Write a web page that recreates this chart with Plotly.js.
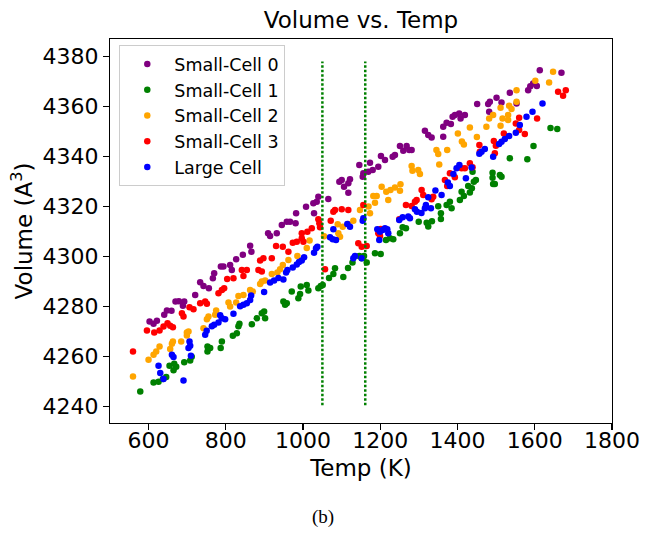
<!DOCTYPE html>
<html>
<head>
<meta charset="utf-8">
<script src="https://cdn.plot.ly/plotly-3.0.1.min.js"></script>
<style>html,body{margin:0;padding:0;background:#fff}#chart{width:645px;height:535px}</style>
</head>
<body>
<div id="chart"></div>
<script>
// ---- data ----
const seriesNames = ["Small-Cell 0", "Small-Cell 1", "Small-Cell 2", "Small-Cell 3", "Large Cell"];
const seriesColors = ["purple", "green", "orange", "red", "blue"];

const sc0Temp = [602.4, 612.8, 621.5, 640.4, 647.4, 659.3, 669.6, 678.4, 692.2, 688.8,
  720.6, 733.5, 742.1, 756.0, 766.4, 769.8, 787.1, 793.8, 811.1, 815.5,
  826.7, 844.0, 862.9, 866.2, 909.4, 914.6, 931.9, 944.9, 957.8, 966.3,
  980.6, 981.9, 1007.7, 1026.6, 1028.4, 1035.4, 1039.5, 1065.4, 1093.9, 1100.1,
  1106.0, 1117.2, 1121.5, 1117.2, 1145.6, 1156.0, 1154.4, 1168.9, 1173.3, 1180.3,
  1194.8, 1201.7, 1212.1, 1232.0, 1237.9, 1250.9, 1259.4, 1268.2, 1274.9, 1281.1,
  1315.5, 1324.1, 1332.9, 1362.9, 1362.9, 1371.7, 1382.8, 1387.2, 1393.2, 1404.3,
  1407.9, 1419.0, 1450.8, 1479.3, 1483.7, 1481.9, 1501.0, 1513.9, 1535.4, 1552.8,
  1582.8, 1588.4, 1595.7, 1605.3, 1613.0, 1669.1];
const sc0Vol = [4274.0, 4273.1, 4274.3, 4276.7, 4278.4, 4278.3, 4282.0, 4282.1, 4282.0, 4280.3,
  4284.6, 4289.7, 4288.2, 4287.3, 4291.3, 4293.3, 4296.0, 4296.0, 4296.6, 4294.6,
  4298.9, 4300.7, 4304.3, 4301.9, 4309.3, 4308.2, 4309.3, 4312.6, 4313.9, 4313.9,
  4313.3, 4317.3, 4319.9, 4321.3, 4317.3, 4321.9, 4323.9, 4323.0, 4329.9, 4330.6,
  4327.9, 4329.3, 4330.9, 4325.5, 4336.6, 4333.3, 4331.9, 4333.9, 4337.5, 4334.6,
  4335.9, 4340.2, 4338.6, 4339.9, 4340.6, 4344.2, 4342.3, 4344.2, 4342.6, 4342.6,
  4350.3, 4348.6, 4347.6, 4347.9, 4351.9, 4353.5, 4353.0, 4355.9, 4356.6, 4357.2,
  4355.2, 4356.6, 4361.0, 4361.0, 4361.9, 4357.9, 4363.5, 4361.6, 4365.5, 4361.2,
  4366.5, 4368.1, 4369.2, 4368.2, 4374.5, 4373.5];

const sc1Temp = [578.3, 612.8, 625.7, 637.0, 645.6, 654.1, 664.5, 671.5, 666.3, 692.2,
  711.6, 707.7, 752.4, 759.4, 752.4, 786.6, 789.7, 818.1, 828.5, 835.2,
  832.6, 867.3, 880.2, 893.1, 899.1, 901.7, 949.0, 953.4, 957.8, 970.7,
  994.0, 992.2, 987.8, 1009.5, 1013.7, 1039.5, 1045.7, 1050.9, 1067.2, 1078.4,
  1082.7, 1104.2, 1116.4, 1128.0, 1145.6, 1151.8, 1157.8, 1164.8, 1186.2, 1201.0,
  1214.7, 1225.0, 1233.6, 1250.9, 1257.9, 1266.4, 1299.5, 1320.0, 1324.1, 1333.7,
  1356.9, 1356.9, 1350.0, 1371.7, 1384.6, 1380.2, 1406.1, 1416.4, 1410.5, 1431.9,
  1437.1, 1427.6, 1442.3, 1447.5, 1438.9, 1490.7, 1490.7, 1492.2, 1496.6, 1509.6,
  1513.9, 1535.4, 1580.7, 1596.7, 1640.7, 1658.3];
const sc1Vol = [4246.0, 4249.6, 4249.9, 4251.0, 4251.8, 4256.3, 4254.5, 4255.9, 4257.1, 4257.7,
  4259.9, 4258.4, 4264.0, 4263.4, 4262.0, 4263.4, 4266.0, 4268.3, 4269.3, 4273.1,
  4272.1, 4272.9, 4275.3, 4277.3, 4278.0, 4275.3, 4282.0, 4280.7, 4281.3, 4286.0,
  4288.0, 4285.0, 4283.3, 4288.6, 4286.4, 4287.3, 4288.2, 4288.6, 4291.4, 4293.0,
  4295.3, 4291.8, 4295.4, 4297.6, 4300.2, 4299.3, 4300.2, 4297.6, 4301.3, 4301.0,
  4306.6, 4307.3, 4306.9, 4309.3, 4311.7, 4311.3, 4313.9, 4313.5, 4312.0, 4314.1,
  4317.3, 4315.0, 4320.1, 4320.6, 4319.3, 4321.9, 4322.6, 4324.2, 4325.9, 4325.6,
  4327.3, 4328.2, 4329.9, 4330.6, 4333.9, 4333.5, 4331.5, 4329.0, 4329.0, 4332.6,
  4331.9, 4339.3, 4338.9, 4344.2, 4351.4, 4351.0];

const sc2Temp = [559.5, 599.8, 612.8, 619.7, 628.3, 655.9, 660.3, 662.9, 684.4, 699.1,
  703.3, 699.1, 742.1, 750.9, 755.0, 772.3, 774.9, 806.8, 811.1, 826.7,
  832.6, 845.5, 862.9, 869.9, 888.7, 893.1, 901.7, 919.0, 933.5, 940.5,
  947.5, 962.0, 985.2, 1009.5, 1016.8, 1054.3, 1089.7, 1091.3, 1095.7, 1102.7,
  1117.2, 1130.1, 1147.4, 1169.4, 1173.3, 1186.2, 1181.8, 1190.6, 1203.5, 1215.4,
  1220.6, 1226.3, 1237.9, 1252.2, 1250.9, 1281.1, 1283.2, 1298.2, 1302.6, 1345.3,
  1350.0, 1373.2, 1352.6, 1400.9, 1411.3, 1416.4, 1431.9, 1450.1, 1474.7, 1481.9,
  1492.2, 1511.4, 1511.4, 1516.5, 1533.6, 1539.8, 1531.0, 1531.0, 1552.8, 1552.8,
  1601.4, 1637.1, 1647.4];
const sc2Vol = [4252.0, 4258.7, 4260.7, 4262.0, 4264.0, 4263.0, 4265.1, 4266.0, 4266.0, 4269.6,
  4270.0, 4268.4, 4271.3, 4274.9, 4276.0, 4276.7, 4278.4, 4281.6, 4280.0, 4281.6,
  4284.2, 4284.6, 4286.6, 4286.0, 4289.0, 4290.0, 4290.4, 4293.0, 4293.6, 4294.9,
  4296.6, 4298.6, 4300.2, 4303.4, 4306.4, 4308.1, 4312.9, 4309.3, 4307.9, 4311.9,
  4313.0, 4314.3, 4318.6, 4320.0, 4317.3, 4321.5, 4324.2, 4324.2, 4327.9, 4325.9,
  4322.6, 4326.6, 4327.6, 4328.9, 4326.3, 4336.2, 4334.3, 4334.6, 4333.0, 4342.6,
  4341.0, 4342.6, 4336.8, 4349.2, 4346.0, 4344.8, 4351.6, 4347.8, 4351.9, 4355.2,
  4356.6, 4352.3, 4359.5, 4355.2, 4360.3, 4359.0, 4356.6, 4354.6, 4366.5, 4361.9,
  4370.3, 4369.6, 4373.9];

const sc3Temp = [559.5, 595.7, 614.6, 628.3, 638.6, 649.0, 655.9, 662.9, 686.2, 690.3,
  705.9, 716.2, 733.5, 746.5, 750.9, 780.9, 789.7, 795.6, 803.4, 819.7,
  841.4, 845.5, 854.3, 884.4, 893.1, 888.7, 897.3, 919.0, 930.1, 947.5,
  962.0, 973.3, 983.7, 996.6, 996.6, 1000.8, 1011.1, 1022.5, 1039.5, 1042.1,
  1043.9, 1071.6, 1078.4, 1082.7, 1100.1, 1117.2, 1056.9, 1143.0, 1151.8, 1164.8,
  1156.0, 1194.8, 1199.2, 1201.0, 1249.1, 1266.4, 1281.1, 1289.7, 1307.0, 1311.2,
  1294.1, 1332.9, 1337.0, 1367.3, 1373.2, 1380.2, 1393.1, 1410.5, 1419.0, 1431.9,
  1438.9, 1456.5, 1457.8, 1494.0, 1499.2, 1496.6, 1519.9, 1550.9, 1559.5, 1559.5,
  1574.2, 1606.0, 1660.4, 1673.3, 1680.3];
const sc3Vol = [4262.0, 4270.4, 4269.6, 4270.4, 4272.0, 4273.3, 4272.3, 4271.7, 4277.3, 4276.0,
  4279.7, 4278.9, 4281.3, 4282.0, 4281.1, 4285.3, 4286.6, 4287.3, 4291.0, 4291.3,
  4294.6, 4292.2, 4294.6, 4294.6, 4294.0, 4298.4, 4299.3, 4299.3, 4304.2, 4303.9,
  4301.9, 4305.5, 4305.9, 4309.3, 4307.3, 4305.9, 4309.9, 4311.3, 4314.9, 4313.3,
  4311.7, 4314.3, 4317.9, 4318.6, 4318.9, 4318.6, 4294.9, 4305.3, 4303.9, 4304.2,
  4320.6, 4309.3, 4308.2, 4311.0, 4314.9, 4320.6, 4320.2, 4321.9, 4326.6, 4324.6,
  4322.6, 4322.9, 4323.9, 4330.6, 4328.2, 4333.3, 4331.7, 4335.3, 4335.3, 4337.3,
  4335.7, 4344.6, 4341.9, 4346.2, 4344.3, 4341.3, 4349.2, 4353.2, 4355.5, 4350.6,
  4349.0, 4355.2, 4365.9, 4364.3, 4366.5];

const largeTemp = [625.7, 630.1, 638.6, 660.3, 664.5, 690.3, 703.3, 705.9, 707.7, 709.5,
  746.5, 750.4, 763.8, 769.8, 780.9, 789.7, 785.3, 798.2, 819.7, 837.0,
  845.5, 854.3, 862.9, 865.5, 899.1, 914.6, 925.0, 936.1, 949.0, 956.0,
  959.4, 973.3, 983.7, 989.6, 996.6, 1002.6, 1028.4, 1033.6, 1037.0, 1069.8,
  1078.4, 1076.8, 1085.3, 1114.6, 1121.5, 1154.4, 1156.0, 1130.1, 1134.5, 1151.8,
  1192.2, 1197.3, 1199.1, 1206.1, 1212.1, 1218.0, 1220.6, 1249.1, 1257.9, 1272.4,
  1276.7, 1289.7, 1294.9, 1306.5, 1315.5, 1318.1, 1324.1, 1331.1, 1342.7, 1358.7,
  1375.0, 1380.2, 1389.3, 1397.5, 1404.8, 1421.6, 1436.4, 1456.5, 1462.2, 1470.7,
  1492.2, 1507.7, 1513.9, 1522.5, 1533.6, 1550.9, 1561.3, 1578.6, 1594.1, 1620.0];
const largeVol = [4256.3, 4253.4, 4251.0, 4260.7, 4259.8, 4250.4, 4263.4, 4266.0, 4264.3, 4260.3,
  4268.7, 4270.3, 4272.1, 4272.7, 4273.6, 4275.3, 4276.5, 4274.9, 4277.1, 4280.1,
  4280.7, 4281.3, 4282.6, 4284.4, 4285.8, 4289.6, 4290.4, 4291.4, 4290.8, 4293.6,
  4294.6, 4295.6, 4296.8, 4297.8, 4298.4, 4299.7, 4301.5, 4303.3, 4303.9, 4307.7,
  4310.9, 4306.9, 4306.6, 4313.0, 4311.9, 4314.3, 4315.3, 4299.3, 4300.2, 4299.3,
  4310.9, 4306.6, 4309.9, 4310.6, 4311.3, 4310.9, 4309.3, 4314.6, 4315.7, 4316.0,
  4315.3, 4318.9, 4317.9, 4317.4, 4319.3, 4320.6, 4323.7, 4319.3, 4326.4, 4324.6,
  4329.6, 4328.2, 4333.0, 4335.3, 4336.6, 4331.3, 4335.6, 4341.1, 4341.9, 4343.0,
  4339.9, 4345.0, 4345.9, 4347.0, 4348.2, 4349.5, 4352.6, 4355.9, 4357.9, 4361.2];

const vlineTemps = [1050, 1161];
const vlineVolRange = [4240.5, 4378];
const xTickVals = [600, 800, 1000, 1200, 1400, 1600, 1800];
const yTickVals = [4240, 4260, 4280, 4300, 4320, 4340, 4360, 4380];

// ---- build traces ----
const temps = [sc0Temp, sc1Temp, sc2Temp, sc3Temp, largeTemp];
const vols = [sc0Vol, sc1Vol, sc2Vol, sc3Vol, largeVol];
const FONT = "DejaVu Sans, sans-serif";

const traces = seriesNames.map((name, i) => ({
  type: "scatter",
  mode: "markers",
  name: name,
  x: temps[i],
  y: vols[i],
  marker: { color: seriesColors[i], size: 6.5, line: { width: 0 } }
}));

const shapes = vlineTemps.map(t => ({
  type: "line", xref: "x", yref: "y", layer: "above",
  x0: t, x1: t, y0: vlineVolRange[0], y1: vlineVolRange[1],
  line: { color: "green", width: 2.5, dash: "2.5px,2px" }
}));

const axisCommon = {
  showgrid: false, zeroline: false,
  showline: true, mirror: true, linecolor: "black", linewidth: 1.2,
  ticks: "outside", ticklen: 6, tickwidth: 1.2, tickcolor: "black",
  tickfont: { family: FONT, size: 22, color: "black" }
};

const layout = {
  width: 645, height: 535,
  margin: { l: 110, r: 33, t: 39, b: 112, pad: 0 },
  paper_bgcolor: "white", plot_bgcolor: "white",
  font: { family: FONT, color: "black" },
  title: {
    text: "Volume vs. Temp",
    font: { family: FONT, size: 23, color: "black" },
    xref: "paper", x: 0.5, xanchor: "center",
    yref: "container", y: 0.962, yanchor: "middle"
  },
  xaxis: Object.assign({}, axisCommon, {
    range: [500, 1800], tickvals: xTickVals,
    ticklabelstandoff: -9,
    title: { text: "Temp (K)", font: { family: FONT, size: 23, color: "black" }, standoff: 8 }
  }),
  yaxis: Object.assign({}, axisCommon, {
    range: [4233.4, 4387.0], tickvals: yTickVals,
    title: { text: "Volume (A<sup>3</sup>)", font: { family: FONT, size: 23, color: "black" }, standoff: 3 }
  }),
  legend: {
    x: 0.0185, y: 0.984, xanchor: "left", yanchor: "top",
    bgcolor: "rgba(255,255,255,0.8)", bordercolor: "#cccccc", borderwidth: 1,
    font: { family: FONT, size: 17.5, color: "black" },
    itemwidth: 44
  },
  shapes: shapes,
  annotations: [{
    text: "(b)", xref: "paper", yref: "paper", x: 0.4234, y: -0.2436,
    xanchor: "center", yanchor: "middle", showarrow: false,
    font: { family: "Liberation Serif, serif", size: 19, color: "black" }
  }]
};

Plotly.newPlot("chart", traces, layout, { displayModeBar: false, staticPlot: true });
</script>
</body>
</html>
